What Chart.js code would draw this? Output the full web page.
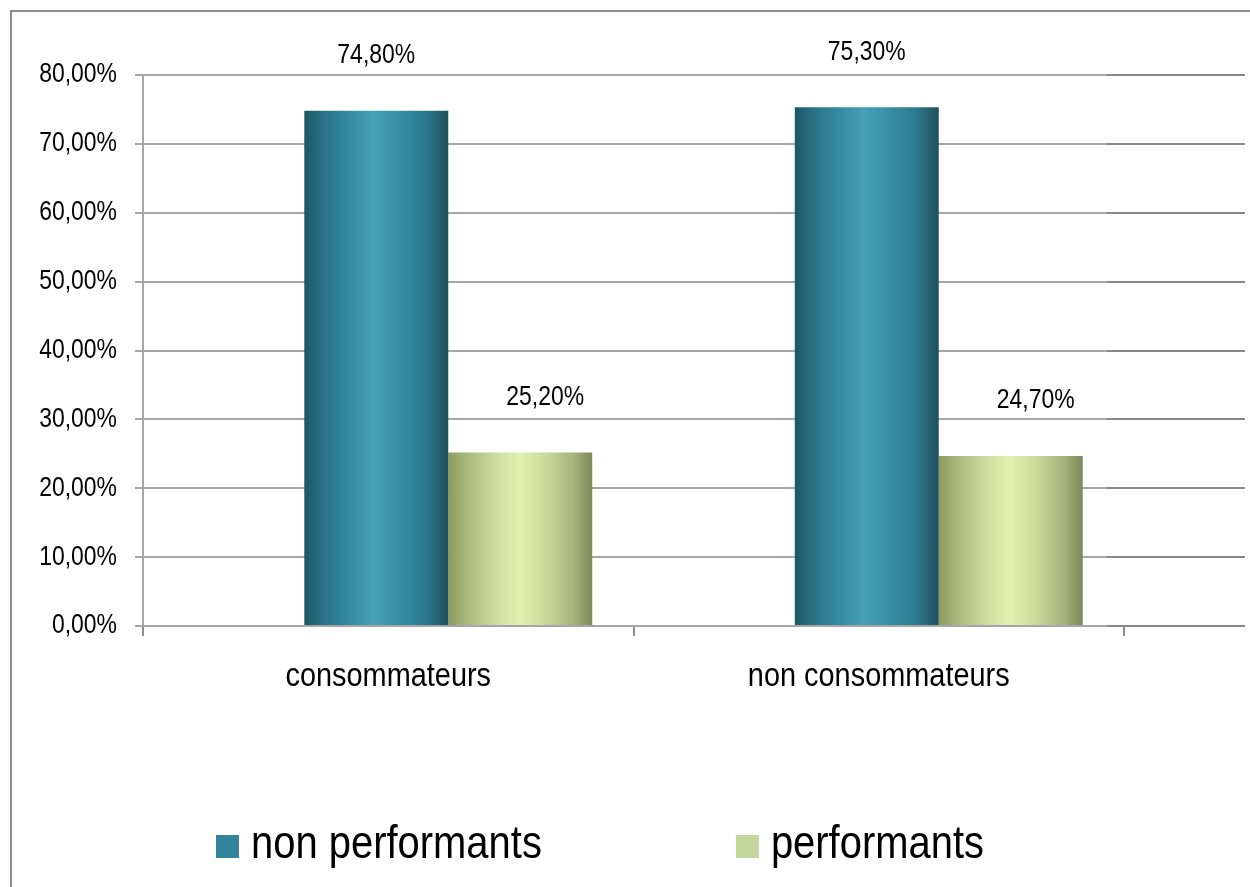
<!DOCTYPE html>
<html><head><meta charset="utf-8">
<script src="https://cdn.jsdelivr.net/npm/chart.js@4.4.1/dist/chart.umd.min.js"></script>
<style>html,body{margin:0;padding:0;background:#fff;overflow:hidden}#wrap{width:1250px;height:887px;position:relative}</style>
</head><body><div id="wrap"><canvas id="c" width="1250" height="887"></canvas></div>
<script>
// ---- data ----
const categories = ['consommateurs', 'non consommateurs'];
const seriesNames = ['non performants', 'performants'];
const nonPerformants = [74.8, 75.3];
const performants = [25.2, 24.7];
const yMin = 0, yMax = 80, yStep = 10;

// ---- styles ----
const legendColors = ['#31849B', '#C3D69B'];
const tealStops = [[0,'#1d5565'],[0.12,'#2a7183'],[0.3,'#3489a0'],[0.48,'#46a0b6'],[0.62,'#3a93aa'],[0.85,'#2c788b'],[1,'#1f4f5d']];
const greenStops = [[0,'#8c9a60'],[0.15,'#aebd7f'],[0.35,'#cfe0a2'],[0.5,'#e0f1b2'],[0.7,'#c6d697'],[0.88,'#a3b07a'],[1,'#7b8756']];
const CAT_PCT = 0.587;
const DEPTH_X = 60;
const FONT = '"Liberation Sans", Arial, sans-serif';
const SQUEEZE = 0.85; // reference uses a condensed face
const SZ = { tick: 27, cat: 34, val: 27, legend: 47 };
const fmt = v => Number(v).toFixed(2).replace('.', ',') + '%';

function narrowText(c, text, x, y, size, align, baseline) {
  c.save();
  c.font = size + 'px ' + FONT;
  c.textAlign = align; c.textBaseline = baseline || 'middle';
  c.fillStyle = '#000';
  c.translate(x, y); c.scale(SQUEEZE, 1);
  c.fillText(text, 0, 0);
  c.restore();
}
function narrowWidth(c, text, size) {
  c.save(); c.font = size + 'px ' + FONT; const w = c.measureText(text).width * SQUEEZE; c.restore(); return w;
}

function barGradient(c, stops) {
  const chart = c.chart, xs = chart.scales && chart.scales.x;
  const fallback = stops[3][1];
  if (!xs || c.dataIndex === undefined || c.datasetIndex === undefined) return fallback;
  const n = chart.data.datasets.length;
  const catW = (xs.right - xs.left) / chart.data.labels.length;
  const barW = catW * CAT_PCT / n;
  const center = xs.getPixelForValue(c.dataIndex);
  const left = center - catW * CAT_PCT / 2 + c.datasetIndex * barW;
  if (![catW, barW, center, left].every(Number.isFinite) || barW <= 0) return fallback;
  const g = chart.ctx.createLinearGradient(left, 0, left + barW, 0);
  stops.forEach(s => g.addColorStop(s[0], s[1]));
  return g;
}

const framePlugin = {
  id: 'frame',
  beforeDraw(chart) {
    const c = chart.ctx;
    c.save();
    c.fillStyle = '#fff'; c.fillRect(0, 0, chart.width, chart.height);
    c.strokeStyle = '#8c8c8c'; c.lineWidth = 2;
    c.beginPath(); c.moveTo(11, chart.height); c.lineTo(11, 11); c.lineTo(chart.width, 11); c.stroke();
    c.restore();
  }
};

const gridExtPlugin = {
  id: 'gridExt',
  beforeDatasetsDraw(chart) {
    const c = chart.ctx, ys = chart.scales.y, a = chart.chartArea;
    c.save();
    c.strokeStyle = '#888888'; c.lineWidth = 2;
    ys.ticks.forEach(t => {
      const y = Math.round(ys.getPixelForValue(t.value));
      c.beginPath(); c.moveTo(a.right - 17, y); c.lineTo(a.right + 121, y); c.stroke();
    });
    c.restore();
  }
};

const axisTextPlugin = {
  id: 'axisText',
  afterDraw(chart) {
    const c = chart.ctx, ys = chart.scales.y, xs = chart.scales.x;
    ys.ticks.forEach(t => {
      narrowText(c, fmt(t.value), ys.right - 8 - 18, ys.getPixelForValue(t.value), SZ.tick, 'right');
    });
    chart.data.labels.forEach((lab, i) => {
      narrowText(c, lab, xs.getPixelForValue(i), xs.top + 51, SZ.cat, 'center');
    });
  }
};

const labelDx = [0, 25];
const depthPlugin = {
  id: 'depth',
  beforeDatasetsDraw(chart) { chart.ctx.save(); chart.ctx.translate(DEPTH_X, 0); },
  afterDatasetsDraw(chart) {
    const c = chart.ctx;
    chart.data.datasets.forEach((ds, di) => {
      chart.getDatasetMeta(di).data.forEach((bar, i) => {
        narrowText(c, fmt(ds.data[i]), bar.x + labelDx[di], bar.y - 55, SZ.val, 'center');
      });
    });
    c.restore();
  }
};

const legendPlugin = {
  id: 'customLegend',
  afterDraw(chart) {
    const c = chart.ctx;
    const box = 23, gap = 12, itemGap = 194;
    const widths = chart.data.datasets.map(d => narrowWidth(c, d.label, SZ.legend));
    const total = widths.reduce((s, w) => s + box + gap + w, 0) + itemGap * (widths.length - 1);
    let x = 600 - total / 2;
    const baseY = 858;
    chart.data.datasets.forEach((d, i) => {
      c.save(); c.fillStyle = legendColors[i]; c.fillRect(x, baseY - box, box, box); c.restore();
      narrowText(c, d.label, x + box + gap, baseY, SZ.legend, 'left', 'alphabetic');
      x += box + gap + widths[i] + itemGap;
    });
  }
};

new Chart(document.getElementById('c'), {
  type: 'bar',
  data: {
    labels: categories,
    datasets: [
      { label: seriesNames[0], data: nonPerformants, backgroundColor: c => barGradient(c, tealStops), borderWidth: 0 },
      { label: seriesNames[1], data: performants, backgroundColor: c => barGradient(c, greenStops), borderWidth: 0 }
    ]
  },
  options: {
    responsive: false,
    animation: false,
    layout: { padding: { left: 0, top: 75, right: 126, bottom: 0 } },
    datasets: { bar: { categoryPercentage: CAT_PCT, barPercentage: 1 } },
    plugins: { legend: { display: false }, tooltip: { enabled: false } },
    scales: {
      x: {
        type: 'category',
        offset: true,
        grid: { offset: true, drawOnChartArea: false, drawTicks: true, tickLength: 10, color: '#8c8c8c', lineWidth: 2 },
        border: { display: false },
        ticks: { display: false },
        afterFit: s => { s.height = 261; }
      },
      y: {
        min: yMin, max: yMax,
        grid: { color: '#a6a6a6', lineWidth: 2, tickLength: 8 },
        border: { display: true, color: '#a6a6a6', width: 2 },
        ticks: { display: false, stepSize: yStep },
        afterFit: s => { s.width = 143; }
      }
    }
  },
  plugins: [framePlugin, gridExtPlugin, depthPlugin, axisTextPlugin, legendPlugin]
});
</script>
</body></html>
